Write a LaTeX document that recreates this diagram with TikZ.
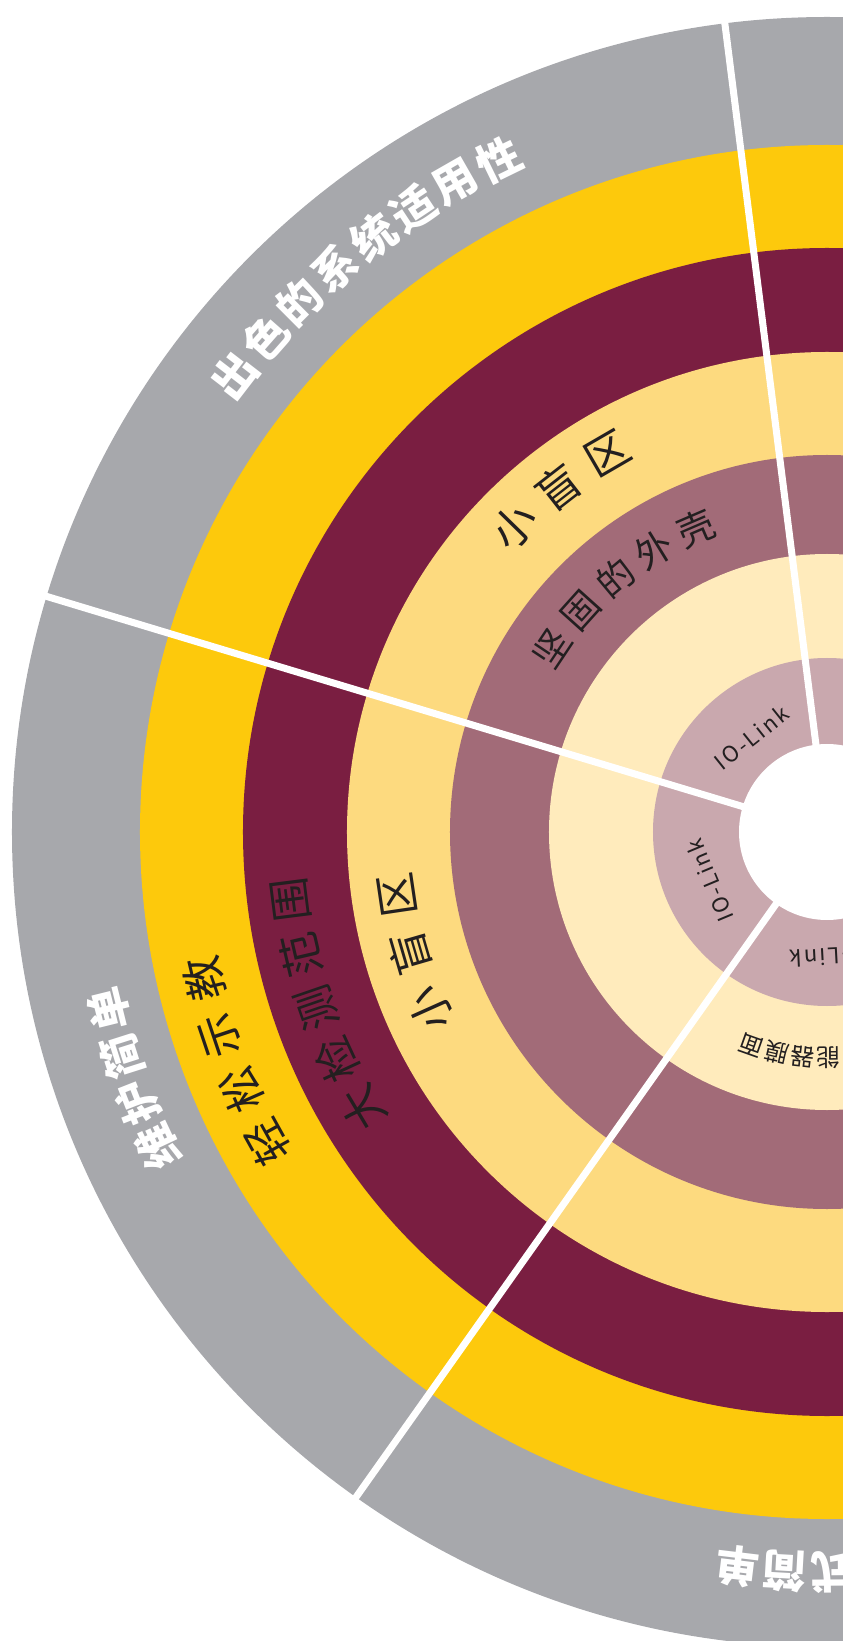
\documentclass[tikz,border=0pt]{standalone}
\usepackage{fontspec}
\newfontfamily\cjk{Noto Sans CJK SC}
\newfontfamily\iofont[LetterSpace=10]{Noto Sans CJK SC}

\definecolor{ringgrey}{RGB}{167,168,172}
\definecolor{ringyellow}{RGB}{253,201,12}
\definecolor{ringmaroon}{RGB}{122,30,65}
\definecolor{ringsand}{RGB}{253,218,127}
\definecolor{ringmauve}{RGB}{162,107,120}
\definecolor{ringcream}{RGB}{255,235,188}
\definecolor{ringpink}{RGB}{201,168,174}
\definecolor{txtdark}{RGB}{35,31,32}

% one glyph per node, set along an arc (name, radius, start angle, step, style, glyphs)
\newcommand{\arctext}[6]{%
  \foreach \chr [count=\i from 0] in {#6}
    \node[#5, rotate={#3-\i*#4-90}] (#1\i) at ({#3-\i*#4}:#2pt) {\chr};
}

\begin{document}
\begin{tikzpicture}[x=1pt,y=1pt,
  big/.style={inner sep=0pt, text=txtdark, font=\cjk\fontsize{44}{44}\selectfont},
  head/.style={big, text=white, font=\cjk\bfseries\fontsize{44}{44}\selectfont},
  mid/.style={big, font=\cjk\fontsize{37}{37}\selectfont},
  small/.style={big, font=\cjk\fontsize{24}{24}\selectfont},
  io/.style={inner sep=0pt, text=txtdark, font=\iofont\fontsize{22}{22}\selectfont}]

\useasboundingbox (-827pt,-809pt) rectangle (16pt,832pt);
\clip (-827pt,-809pt) rectangle (16pt,832pt);

%rings, outside in
\fill[ringgrey] (0,0) circle (815pt);
\fill[ringyellow] (0,0) circle (687pt);
\fill[ringmaroon] (0,0) circle (584pt);
\fill[ringsand] (0,0) circle (480pt);
\fill[ringmauve] (0,0) circle (377pt);
\fill[ringcream] (0,0) circle (278pt);
\fill[ringpink] (0,0) circle (174pt);

%cuts between the segments
\foreach \a in {97.2,163.2,234.7}
  \draw[white, line width=7pt] (\a:80pt) -- (\a:840pt);
\fill[white] (0,0) circle (88pt);

%upper segment
\arctext{sys}{748}{142.4}{3.77}{head}{出,色,的,系,统,适,用,性}
\arctext{blindA}{437}{135.7}{7.8}{big}{小,盲,区}
\arctext{shell}{331}{146.3}{8.25}{mid}{坚,固,的,外,壳}
\node[io, rotate=38.6] (ioA) at (128.6:121pt) {IO-Link};

%left segment
\arctext{care}{740}{205.2}{3.77}{head}{维,护,简,单}
\arctext{teach}{640}{209.0}{5.23}{big}{轻,松,示,教}
\arctext{range}{540}{210.8}{5.9}{big}{大,检,测,范,围}
\arctext{blindB}{434}{204.1}{7.85}{big}{小,盲,区}
\node[io, rotate=112.7] (ioB) at (202.7:127pt) {IO-Link};

%lower segment
\arctext{setup}{740}{270.4}{3.65}{head}{式,简,单}
\arctext{face}{226}{270.3}{6.6}{small}{能,器,膜,面}
\node[io, rotate=183] (ioC) at (273:125pt) {IO-Link};
\end{tikzpicture}
\end{document}
